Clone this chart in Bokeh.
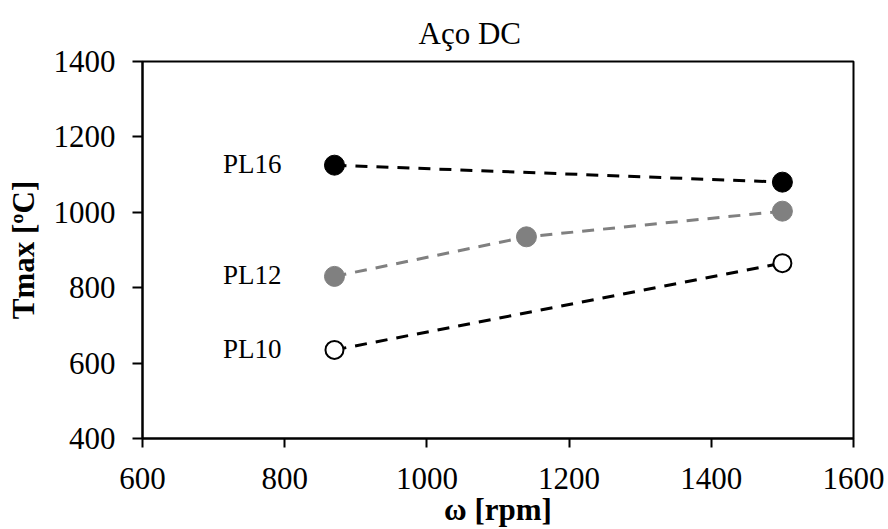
from bokeh.plotting import figure
from bokeh.models import Range1d, FixedTicker
from bokeh.core.properties import value
from bokeh.embed import file_html
from bokeh.resources import INLINE

# data
pl16_x = [870, 1500]
pl16_y = [1125, 1080]
pl12_x = [870, 1140, 1500]
pl12_y = [830, 935, 1003]
pl10_x = [870, 1500]
pl10_y = [635, 865]
series_names = ["PL16", "PL12", "PL10"]
x_ticks = [600, 800, 1000, 1200, 1400, 1600]
y_ticks = [400, 600, 800, 1000, 1200, 1400]

FONT = "Liberation Serif"

p = figure(width=888, height=529, output_backend="svg", toolbar_location=None,
           x_range=Range1d(600, 1600), y_range=Range1d(400, 1400),
           min_border_left=142, min_border_right=35, min_border_top=61, min_border_bottom=90)

p.title.text = "Aço DC"
p.title.align = "left"
p.title.offset = 276
p.title.standoff = 21
p.title.text_font = FONT
p.title.text_font_size = "31px"
p.title.text_font_style = "normal"
p.title.text_color = "black"

p.xgrid.visible = False
p.ygrid.visible = False
p.outline_line_color = "black"
p.outline_line_width = 2
p.outline_line_alpha = 1

for ax, ticks in ((p.xaxis[0], x_ticks), (p.yaxis[0], y_ticks)):
    ax.ticker = FixedTicker(ticks=ticks)
    ax.minor_tick_line_color = None
    ax.major_tick_in = 0
    ax.major_tick_out = 10
    ax.major_tick_line_width = 2
    ax.major_tick_line_color = "black"
    ax.axis_line_width = 2
    ax.axis_line_color = "black"
    ax.major_label_text_font = FONT
    ax.major_label_text_font_size = "31px"
    ax.major_label_text_color = "black"
    ax.axis_label_text_font = FONT
    ax.axis_label_text_font_size = "31px"
    ax.axis_label_text_font_style = "bold"
    ax.axis_label_text_color = "black"

p.xaxis.axis_label = "ω [rpm]"
p.yaxis.axis_label = "Tmax [ºC]"
p.xaxis.major_tick_out = 9
p.xaxis.major_label_standoff = 20
p.yaxis.major_label_standoff = 17
p.xaxis.axis_label_standoff = 0
p.yaxis.axis_label_standoff = 10

dash = "12 9"
p.line(pl16_x, pl16_y, line_color="black", line_width=3, line_dash=dash)
p.line(pl12_x, pl12_y, line_color="#808080", line_width=3, line_dash=dash)
p.line(pl10_x, pl10_y, line_color="black", line_width=3, line_dash=dash)

p.scatter(pl16_x, pl16_y, size=20, fill_color="black", line_color="black", line_width=1)
p.scatter(pl12_x, pl12_y, size=20, fill_color="#808080", line_color="#808080", line_width=1)
p.scatter(pl10_x, pl10_y, size=18, fill_color="white", line_color="black", line_width=2)

label_x = [pl16_x[0], pl12_x[0], pl10_x[0]]
label_y = [pl16_y[0], pl12_y[0], pl10_y[0]]
p.text(label_x, label_y, text=series_names, x_offset=-53, y_offset=-1,
       text_align="right", text_baseline="middle",
       text_font=value(FONT), text_font_size="27px", text_color="black")

open("out.html", "w").write(file_html(p, INLINE))
